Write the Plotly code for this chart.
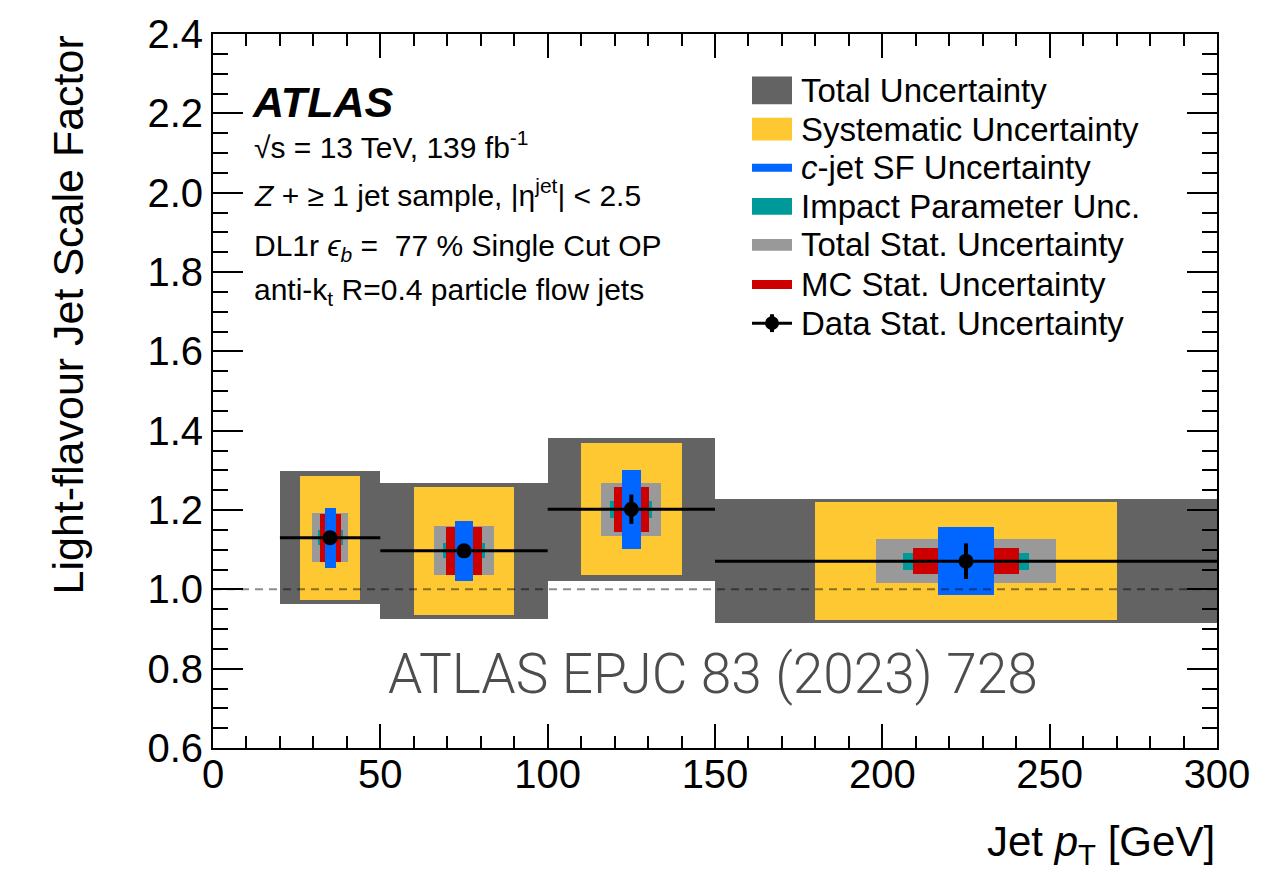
import plotly.graph_objects as go

# pT bins [GeV] and measured light-flavour scale factors
bin_lo = [20, 50, 100, 150]
bin_hi = [50, 100, 150, 300]
bin_center = [35, 75, 125, 225]
sf = [1.130, 1.097, 1.202, 1.071]

# symmetric uncertainty components per bin
err_total = [0.168, 0.172, 0.180, 0.156]
err_syst = [0.156, 0.162, 0.167, 0.148]
err_cjet = [0.075, 0.075, 0.100, 0.086]
err_ip = [0.019, 0.019, 0.021, 0.021]
err_stat_total = [0.062, 0.062, 0.067, 0.056]
err_stat_mc = [0.060, 0.060, 0.057, 0.032]
err_stat_data = [0.016, 0.016, 0.037, 0.045]

x_ticks = [0, 50, 100, 150, 200, 250, 300]
y_ticks = [0.6, 0.8, 1.0, 1.2, 1.4, 1.6, 1.8, 2.0, 2.2, 2.4]

# box widths as a fraction of the bin width
W_TOTAL, W_SYST, W_STAT, W_IP, W_MC, W_CJET = 1.0, 0.60, 0.36, 0.25, 0.21, 0.11

C_TOTAL = "#636363"
C_SYST = "#fdc832"
C_CJET = "#0066ff"
C_IP = "#009999"
C_STAT = "#999999"
C_MC = "#cc0000"

FONT = "Liberation Sans, Arial, Helvetica, sans-serif"

bin_width = [h - l for l, h in zip(bin_lo, bin_hi)]

fig = go.Figure()


def add_band(errors, frac, color):
    fig.add_trace(go.Bar(
        x=bin_center,
        y=[2 * e for e in errors],
        base=[v - e for v, e in zip(sf, errors)],
        width=[frac * w for w in bin_width],
        marker=dict(color=color, line=dict(width=0)),
        hoverinfo="skip",
        showlegend=False,
    ))


add_band(err_total, W_TOTAL, C_TOTAL)
add_band(err_syst, W_SYST, C_SYST)
add_band(err_stat_total, W_STAT, C_STAT)
add_band(err_ip, W_IP, C_IP)
add_band(err_stat_mc, W_MC, C_MC)
add_band(err_cjet, W_CJET, C_CJET)

# reference line at SF = 1
fig.add_trace(go.Scatter(
    x=[x_ticks[0], x_ticks[-1]], y=[1.0, 1.0], mode="lines",
    line=dict(color="rgba(0,0,0,0.45)", width=2, dash="8px,6px"),
    hoverinfo="skip", showlegend=False,
))

# bin extent (horizontal bar) of each measurement
fig.add_trace(go.Scatter(
    x=bin_center, y=sf, mode="markers",
    marker=dict(size=1, color="black"),
    error_x=dict(type="data", symmetric=False,
                 array=[h - c for h, c in zip(bin_hi, bin_center)],
                 arrayminus=[c - l for c, l in zip(bin_center, bin_lo)],
                 color="black", thickness=3, width=0),
    hoverinfo="skip", showlegend=False,
))

# data points with data statistical uncertainty
fig.add_trace(go.Scatter(
    x=bin_center, y=sf, mode="markers",
    marker=dict(size=15, color="black", symbol="circle"),
    error_y=dict(type="data", array=err_stat_data, color="black",
                 thickness=4, width=0),
    hoverinfo="skip", showlegend=False,
))

# ---- layout geometry (pixels) ----
W, H = 1286, 873
L, R, T, B = 213, 1217, 27, 748


def px(x):
    return (x - L) / (R - L)


def py(y):
    return (B - y) / (B - T)


shapes = []
annotations = []

# legend
leg_x0, leg_x1 = 752, 792
leg_text_x = 799
rows = [
    ("Total Uncertainty", C_TOTAL, 28),
    ("Systematic Uncertainty", C_SYST, 23),
    ("<i>c</i>-jet SF Uncertainty", C_CJET, 8),
    ("Impact Parameter Unc.", C_IP, 17),
    ("Total Stat. Uncertainty", C_STAT, 12),
    ("MC Stat. Uncertainty", C_MC, 9),
]
row_y = [84, 123, 162, 201, 240, 280, 319]
for (label, color, h), yc in zip(rows, row_y):
    shapes.append(dict(type="rect", xref="paper", yref="paper",
                       x0=px(leg_x0), x1=px(leg_x1),
                       y0=py(yc + h / 2), y1=py(yc - h / 2),
                       fillcolor=color, line=dict(width=0), layer="above"))
    annotations.append(dict(text=label, xref="paper", yref="paper",
                            x=px(leg_text_x), y=py(yc), xanchor="left",
                            yanchor="middle", showarrow=False,
                            font=dict(family=FONT, size=33, color="black")))
yd = row_y[-1]
shapes.append(dict(type="line", xref="paper", yref="paper",
                   x0=px(leg_x0), x1=px(leg_x1), y0=py(yd), y1=py(yd),
                   line=dict(color="black", width=3), layer="above"))
shapes.append(dict(type="line", xref="paper", yref="paper",
                   x0=px((leg_x0 + leg_x1) / 2), x1=px((leg_x0 + leg_x1) / 2),
                   y0=py(yd - 9), y1=py(yd + 9),
                   line=dict(color="black", width=4), layer="above"))
shapes.append(dict(type="circle", xref="paper", yref="paper",
                   x0=px((leg_x0 + leg_x1) / 2 - 7), x1=px((leg_x0 + leg_x1) / 2 + 7),
                   y0=py(yd + 7), y1=py(yd - 7),
                   fillcolor="black", line=dict(width=0), layer="above"))
annotations.append(dict(text="Data Stat. Uncertainty", xref="paper", yref="paper",
                        x=px(leg_text_x), y=py(yd), xanchor="left",
                        yanchor="middle", showarrow=False,
                        font=dict(family=FONT, size=33, color="black")))

# ATLAS label block
text_x = 252
annotations.append(dict(text="<b><i>ATLAS</i></b>", xref="paper", yref="paper",
                        x=px(text_x - 2), y=py(96), xanchor="left", yanchor="middle",
                        showarrow=False, font=dict(family=FONT, size=43, color="black")))
info_lines = [
    ("√s = 13 TeV, 139 fb<sup>-1</sup>", 139),
    ("<i>Z</i> + ≥ 1 jet sample, |η<sup>jet</sup>| < 2.5", 188),
    ("DL1r <i>ϵ</i><sub><i>b</i></sub> =  77 % Single Cut OP", 243),
    ("anti-k<sub>t</sub> R=0.4 particle flow jets", 287),
]
for txt, yc in info_lines:
    annotations.append(dict(text=txt, xref="paper", yref="paper",
                            x=px(text_x), y=py(yc), xanchor="left", yanchor="middle",
                            showarrow=False,
                            font=dict(family=FONT, size=30, color="black")))

# axis titles
annotations.append(dict(text="Jet <i>p</i><sub>T</sub> [GeV]", xref="paper", yref="paper",
                        x=1.0, y=py(845), xanchor="right", yanchor="middle",
                        showarrow=False, font=dict(family=FONT, size=42, color="black")))
annotations.append(dict(text="Light-flavour Jet Scale Factor", xref="paper", yref="paper",
                        x=px(67), y=1.0, xanchor="center", yanchor="top", textangle=-90,
                        showarrow=False, font=dict(family=FONT, size=43, color="black")))

# publication reference
annotations.append(dict(text="ATLAS EPJC 83 (2023) 728", xref="paper", yref="paper",
                        x=px(713), y=py(673), xanchor="center", yanchor="middle",
                        showarrow=False,
                        font=dict(family="Roboto, Liberation Sans, sans-serif", size=55,
                                  color="#4d4d4d", weight=300)))

axis_common = dict(
    showline=True, linecolor="black", linewidth=2, mirror="allticks",
    ticks="inside", tickcolor="black", tickwidth=2,
    showgrid=False, zeroline=False,
    tickfont=dict(family=FONT, size=40, color="black"),
)

fig.update_layout(
    width=W, height=H,
    margin=dict(l=L, r=W - R, t=T, b=H - B, pad=0),
    paper_bgcolor="white", plot_bgcolor="white",
    barmode="overlay", bargap=0,
    showlegend=False,
    shapes=shapes, annotations=annotations,
    xaxis=dict(range=[x_ticks[0], x_ticks[-1]], tickvals=x_ticks,
               ticktext=[str(v) for v in x_ticks], ticklen=24,
               ticklabelstandoff=-10,
               minor=dict(dtick=10, ticklen=12, ticks="inside", tickcolor="black",
                          tickwidth=2, showgrid=False),
               **axis_common),
    yaxis=dict(range=[y_ticks[0], y_ticks[-1]], tickvals=y_ticks,
               ticktext=[f"{v:.1f}" for v in y_ticks], ticklen=30,
               minor=dict(dtick=0.05, tick0=0.6, ticklen=15, ticks="inside",
                          tickcolor="black", tickwidth=2, showgrid=False),
               **axis_common),
)

fig.write_html("out.html")
